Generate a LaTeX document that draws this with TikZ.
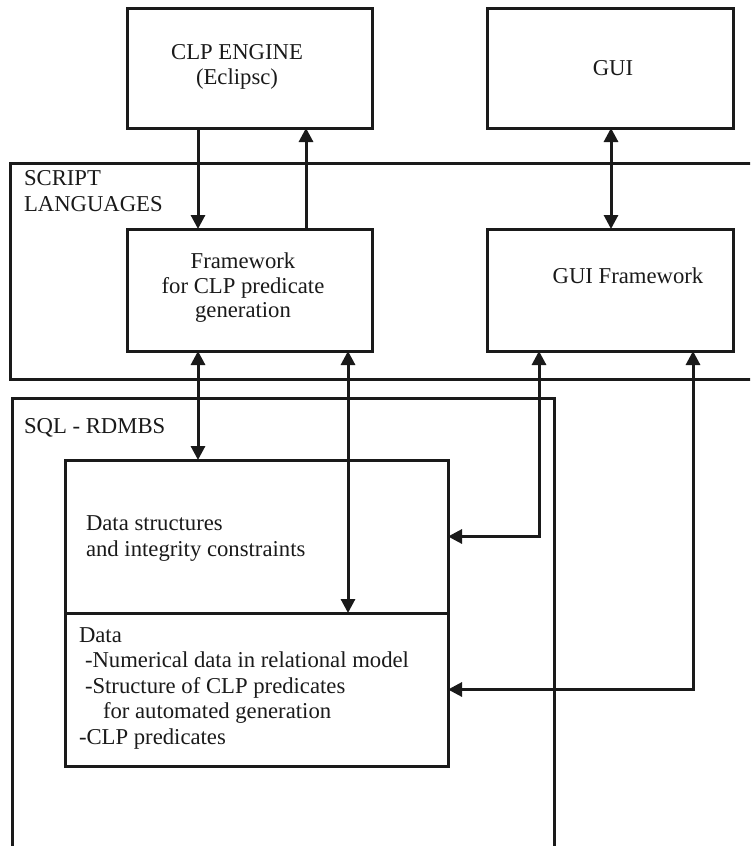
\documentclass[tikz,border=0pt]{standalone}
\usepackage{fontspec}
\setmainfont{Liberation Serif}
\usetikzlibrary{arrows.meta}
\definecolor{ink}{HTML}{1A1A1A}
\begin{document}
\begin{tikzpicture}[x=1pt,y=-1pt,
  box/.style={draw=ink, line width=3pt, inner sep=0pt, outer sep=0pt},
  lbl/.style={text=ink, inner sep=0pt, outer sep=0pt, font=\fontsize{22.7}{25}\selectfont},
  arr/.style={draw=ink, line width=3pt, -{Triangle[length=14pt,width=14pt]}},
  darr/.style={draw=ink, line width=3pt, {Triangle[length=14pt,width=14pt]}-{Triangle[length=14pt,width=14pt]}}]
\useasboundingbox (0,0) rectangle (750,846);
\clip (0,0) rectangle (750,846);
% containers
\node[box, minimum width=760pt, minimum height=216pt] (script) at (390,271) {};
\node[box, minimum width=542pt, minimum height=472pt] (sql) at (283,634) {};
% boxes
\node[box, minimum width=245pt, minimum height=120pt] (clp) at (249.5,68) {};
\node[box, minimum width=246pt, minimum height=120pt] (gui) at (610,68) {};
\node[box, minimum width=245pt, minimum height=122pt] (fw) at (249.5,290) {};
\node[box, minimum width=246pt, minimum height=122pt] (guifw) at (610,290) {};
\node[box, minimum width=383pt, minimum height=153pt] (ds) at (256.5,536.5) {};
\node[box, minimum width=383pt, minimum height=153pt] (data) at (256.5,689.5) {};
% labels
\node[lbl, anchor=base] (t1) at (237,59) {CLP ENGINE};
\node[lbl, anchor=base] (t2) at (237,84) {(Eclipsc)};
\node[lbl, anchor=base] (t3) at (613,75) {GUI};
\node[lbl, anchor=base west] (t4) at (24,185) {SCRIPT};
\node[lbl, anchor=base west] (t5) at (24,211) {LANGUAGES};
\node[lbl, anchor=base] (t6) at (243,268) {Framework};
\node[lbl, anchor=base] (t7) at (243,293) {for CLP predicate};
\node[lbl, anchor=base] (t8) at (243,317) {generation};
\node[lbl, anchor=base] (t9) at (628,283) {GUI Framework};
\node[lbl, anchor=base west] (t10) at (24,433) {SQL - RDMBS};
\node[lbl, anchor=base west] (t11) at (86,530) {Data structures};
\node[lbl, anchor=base west] (t12) at (86,556) {and integrity constraints};
\node[lbl, anchor=base west] (t13) at (79,642) {Data};
\node[lbl, anchor=base west] (t14) at (85,667) {-Numerical data in relational model};
\node[lbl, anchor=base west] (t15) at (85,693) {-Structure of CLP predicates};
\node[lbl, anchor=base west] (t16) at (103,718) {for automated generation};
\node[lbl, anchor=base west] (t17) at (79,744) {-CLP predicates};
% connectors
\draw[arr] ([xshift=-51.5pt]clp.south) -- ([xshift=-51.5pt]fw.north);
\draw[arr] ([xshift=56.5pt]fw.north) -- ([xshift=56.5pt]clp.south);
\draw[darr] ([xshift=1pt]gui.south) -- ([xshift=1pt]guifw.north);
\draw[darr] ([xshift=-51.5pt]fw.south) -- ([xshift=-51.5pt]fw.south |- ds.north);
\draw[darr] ([xshift=98.5pt]fw.south) -- ([xshift=98.5pt]fw.south |- data.north);
\draw[darr] ([xshift=-71pt]guifw.south) |- (ds.east);
\draw[darr] ([xshift=83pt]guifw.south) |- (data.east);
\end{tikzpicture}
\end{document}
